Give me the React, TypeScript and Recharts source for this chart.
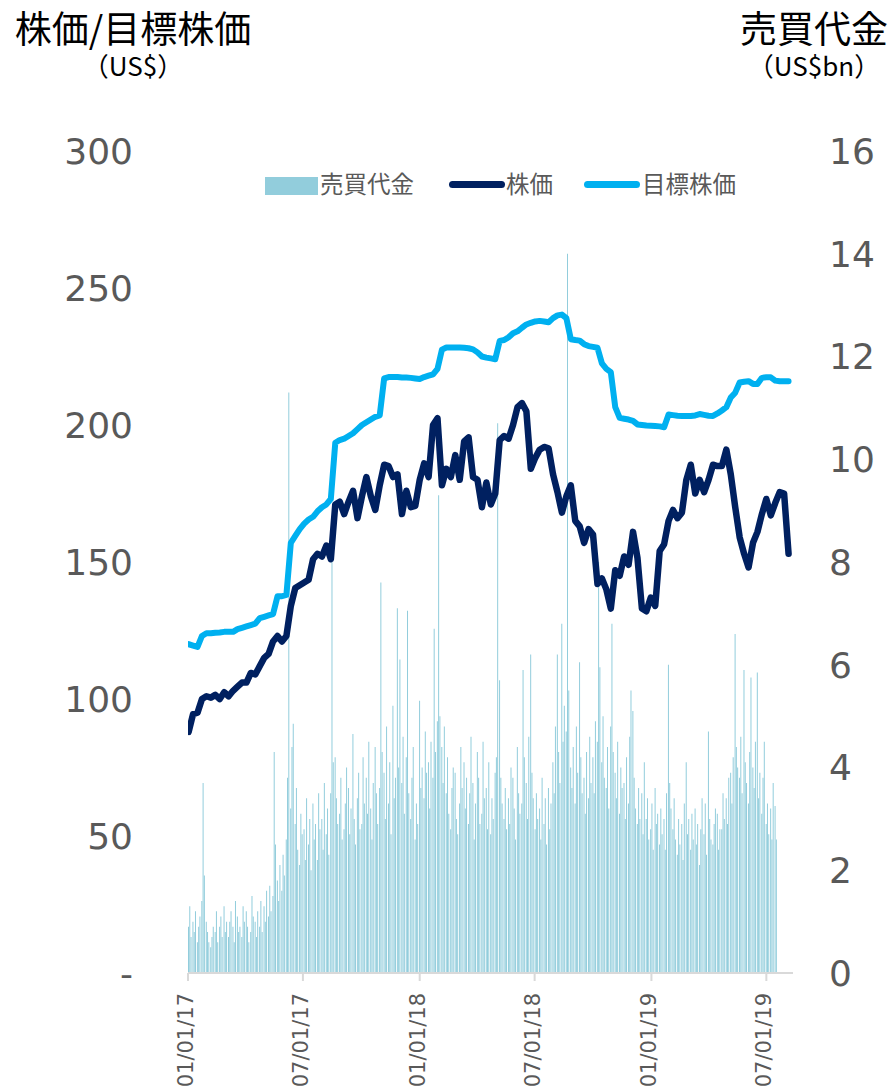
import React from 'react';
import { ComposedChart, Bar, Line, XAxis, YAxis } from 'recharts';

// weekly closing price (US$), one value per Monday from 02/01/2017
const priceWeekly = [
  88, 94.5, 95, 100, 101, 100.5, 101.5, 100, 102.5, 101,
  103, 104.5, 106, 106, 109.5, 109, 112, 115, 116.5, 121,
  123, 121, 123, 134, 140.5, 141.5, 142.5, 143.5, 151, 153,
  152, 156, 151, 171, 172, 167.5, 172, 176, 166, 174,
  181, 174, 169, 178, 185.5, 185, 181, 182, 167.5, 176,
  170, 170.5, 180, 186, 181, 200, 202.5, 178, 184, 181,
  189, 180, 194, 195.5, 181, 180, 170, 179, 171, 175,
  194.5, 196, 195, 200, 206.5, 208, 205, 184, 188, 191,
  192, 191.5, 182, 175.5, 168, 174, 178, 165, 163, 157,
  162, 160, 142, 144, 140, 133, 147, 145, 152, 149,
  161, 151.5, 133, 132, 137, 134, 154, 156.5, 165, 169,
  166, 168, 180, 185.5, 175, 180, 175.5, 180, 185.5, 185,
  185, 191, 182, 170, 159, 153, 148, 157, 161, 167.5,
  173, 167, 171.5, 175.5, 175, 153,
];

// weekly consensus target price (US$)
const targetWeekly = [
  120, 119.5, 119, 123, 124, 124, 124.2, 124.3, 124.5, 124.5,
  124.5, 125.5, 126, 126.5, 127, 127.5, 129.5, 130, 130.5, 131,
  137.5, 137.5, 138, 157, 159.5, 162, 164, 165.5, 166.5, 168.5,
  170, 171, 173, 193.5, 194.5, 195, 196, 197, 198.5, 200,
  201, 202, 203, 203.5, 217, 217.5, 217.5, 217.5, 217.3, 217.3,
  217.2, 217, 216.8, 217.5, 218, 218.5, 220.5, 227.5, 228.3, 228.3,
  228.3, 228.3, 228.2, 228, 227.6, 226.5, 225, 224.6, 224.3, 224,
  230.7, 231, 232, 233.5, 234.2, 235.5, 236.7, 237.3, 237.8, 238,
  237.8, 237.5, 239, 240, 240.3, 239, 231.3, 231, 230.8, 229.5,
  228.8, 228.5, 228.2, 222.5, 220.5, 219.3, 206.5, 202.6, 202.3, 202,
  201.5, 200.2, 200, 199.8, 199.7, 199.6, 199.5, 199.2, 203.8, 203.6,
  203.4, 203.3, 203.3, 203.3, 203.5, 204, 203.7, 203.4, 203.3, 204.2,
  205.3, 206.5, 210, 211.8, 215.5, 215.8, 216, 215, 215, 217.2,
  217.4, 217.4, 216.2, 216, 216, 216,
];

// trading value (US$bn), Mon / Wed / Fri of each week
const volumeMWF = [
  0.9, 1.3, 0.7, 1.0, 0.8, 1.2, 0.6, 0.9, 1.1, 1.4, 3.7, 1.9,
  1.0, 0.8, 0.6, 0.5, 0.7, 0.9, 0.8, 1.2, 0.6, 0.9, 1.1, 0.7,
  1.3, 0.8, 1.0, 0.7, 1.0, 1.2, 0.9, 0.6, 1.4, 1.1, 0.8, 0.9,
  0.7, 1.3, 1.0, 1.2, 0.9, 0.6, 0.8, 1.5, 1.1, 1.0, 0.7, 1.2,
  0.9, 1.4, 0.8, 1.3, 1.0, 1.6, 1.1, 1.7, 1.2, 1.5, 4.3, 2.5,
  1.8, 1.4, 2.1, 1.6, 2.3, 1.9, 2.6, 3.8, 11.3, 3.2, 4.4, 4.85,
  2.9, 3.6, 2.4, 2.1, 3.1, 2.7, 2.8, 2.2, 3.4, 2.5, 3.0, 2.0,
  3.3, 2.6, 2.9, 2.2, 3.5, 2.8, 3.0, 2.4, 3.7, 2.7, 3.2, 2.3,
  3.5, 8.0, 4.1, 4.2, 3.4, 2.9, 3.1, 3.8, 2.6, 2.8, 3.3, 4.0,
  3.6, 2.7, 3.2, 4.65, 3.0, 2.5, 3.4, 3.9, 2.8, 2.9, 4.2, 3.3,
  3.8, 3.1, 4.5, 3.2, 2.6, 3.7, 4.4, 3.5, 2.9, 3.6, 7.6, 4.3,
  3.9, 3.0, 4.8, 3.3, 4.1, 2.7, 5.2, 3.4, 3.8, 7.1, 4.0, 6.1,
  3.7, 4.6, 3.1, 4.2, 7.05, 3.5, 3.0, 3.8, 4.4, 2.6, 3.3, 2.9,
  5.3, 3.6, 4.0, 3.4, 4.7, 3.9, 4.1, 3.2, 4.5, 3.8, 6.7, 4.3,
  4.9, 9.3, 5.0, 4.4, 3.7, 4.8, 3.5, 4.2, 3.1, 2.8, 3.6, 4.0,
  3.9, 3.0, 2.7, 3.3, 4.4, 3.6, 4.1, 3.2, 3.8, 2.9, 3.5, 4.6,
  3.7, 2.6, 3.3, 4.3, 3.8, 2.9, 3.1, 4.5, 3.4, 3.6, 2.8, 4.1,
  2.7, 3.4, 3.0, 3.9, 4.2, 10.7, 5.7, 3.8, 3.3, 3.0, 3.6, 2.8,
  3.4, 2.9, 4.0, 3.8, 3.2, 2.6, 4.4, 3.5, 3.1, 3.3, 5.9, 4.2,
  3.7, 3.0, 4.6, 6.2, 3.9, 3.4, 2.8, 3.5, 3.0, 3.2, 2.6, 3.8,
  2.9, 3.4, 2.5, 3.6, 2.8, 3.3, 4.1, 3.5, 4.8, 6.2, 4.3, 3.7,
  6.8, 4.5, 5.2, 4.7, 14.0, 5.5, 4.0, 3.6, 4.4, 3.3, 4.8, 3.9,
  6.05, 4.2, 3.5, 3.8, 3.1, 4.3, 3.4, 4.6, 3.7, 4.2, 3.5, 4.9,
  4.5, 8.0, 5.95, 4.1, 5.0, 3.8, 3.6, 4.4, 3.2, 4.8, 6.8, 4.3,
  3.9, 3.4, 4.5, 3.1, 4.0, 3.6, 3.7, 3.0, 4.2, 3.3, 4.6, 5.5,
  5.1, 3.8, 3.2, 2.9, 3.6, 3.0, 3.5, 2.7, 4.1, 3.0, 3.4, 2.6,
  2.8, 3.3, 2.4, 3.6, 2.9, 3.1, 2.5, 3.2, 2.7, 3.0, 2.4, 3.5,
  6.0, 3.7, 3.2, 2.8, 3.4, 2.6, 2.3, 3.0, 2.5, 2.9, 2.2, 3.3,
  4.1, 2.7, 3.0, 2.4, 3.1, 2.6, 3.2, 2.5, 2.9, 2.1, 2.8, 3.4,
  2.7, 3.3, 2.3, 4.7, 3.0, 2.6, 2.5, 2.9, 3.2, 3.1, 2.4, 2.8,
  2.8, 3.5, 3.0, 3.4, 2.9, 3.8, 3.9, 3.3, 4.2, 6.6, 4.4, 4.0,
  3.8, 4.6, 3.5, 5.9, 4.1, 3.7, 3.3, 4.3, 5.75, 4.0, 3.6, 4.5,
  5.85, 3.4, 3.9, 3.1, 3.8, 4.5, 2.9, 3.3, 2.7, 3.2, 2.6, 3.7,
  3.25, 2.6, null, null, null, null, null, null, null, null, null, null,
];

const tickLabels = ['01/01/17', '07/01/17', '01/01/18', '07/01/18', '01/01/19', '07/01/19'];
const tickDates = [
  Date.UTC(2017, 0, 1), Date.UTC(2017, 6, 1), Date.UTC(2018, 0, 1),
  Date.UTC(2018, 6, 1), Date.UTC(2019, 0, 1), Date.UTC(2019, 6, 1),
];

const DAY = 86400000;
const T0 = Date.UTC(2017, 0, 1);
const T_END = Date.UTC(2019, 7, 12);

// rows every Mon/Wed/Fri; lines only carry a point on Mondays
const rows = [];
priceWeekly.forEach((p, k) => {
  [0, 2, 4].forEach((off, j) => {
    rows.push({
      t: T0 + (1 + 7 * k + off) * DAY,
      volume: volumeMWF[3 * k + j],
      price: j === 0 ? p : null,
      target: j === 0 ? targetWeekly[k] : null,
    });
  });
});

const NAVY = '#002060';
const CYAN = '#00B0F0';
const AQUA = '#92CDDC';
const GREY = '#595959';
const TICK_FONT = '"DejaVu Sans", Verdana, sans-serif';
const JP_FONT = '"Noto Sans CJK JP", sans-serif';

const DateTick = (props: any) => {
  const { x, y, payload } = props;
  const idx = tickDates.indexOf(payload.value);
  return (
    <g transform={`translate(${x + 5},${y})`}>
      <text transform="rotate(-90)" textAnchor="end" fill={GREY} fontSize={21} fontFamily={TICK_FONT}>
        {tickLabels[idx]}
      </text>
    </g>
  );
};

const txt = (extra: React.CSSProperties): React.CSSProperties => ({
  position: 'absolute',
  whiteSpace: 'nowrap',
  fontFamily: JP_FONT,
  lineHeight: 1,
  ...extra,
});

// title block: big title line with the unit line centred below it
const titleBlock = (extra: React.CSSProperties): React.CSSProperties => ({
  position: 'absolute',
  whiteSpace: 'nowrap',
  fontFamily: JP_FONT,
  fontSize: 37,
  lineHeight: '33px',
  textAlign: 'center',
  color: '#000',
  ...extra,
});

export default function App() {
  return (
    <div style={{ position: 'absolute', left: 0, top: 0, width: 893, height: 1088, background: '#fff', overflow: 'hidden' }}>
      <ComposedChart
        width={893}
        height={1088}
        data={rows}
        margin={{ top: 151, right: 40, bottom: 85, left: 128 }}
        barGap={0}
      >
        <XAxis
          dataKey="t"
          type="number"
          domain={[T0, T_END]}
          ticks={tickDates}
          height={30}
          stroke="#D9D9D9"
          strokeWidth={2}
          tickSize={8}
          tickMargin={12}
          tick={<DateTick />}
          allowDataOverflow
        />
        <YAxis
          yAxisId="left"
          orientation="left"
          domain={[0, 300]}
          ticks={[0, 50, 100, 150, 200, 250, 300]}
          tickFormatter={(v: number) => (v === 0 ? '-' : String(v))}
          width={60}
          axisLine={false}
          tickLine={false}
          tickSize={0}
          tickMargin={55}
          tick={{ fill: GREY, fontSize: 36, fontFamily: TICK_FONT }}
        />
        <YAxis
          yAxisId="right"
          orientation="right"
          domain={[0, 16]}
          ticks={[0, 2, 4, 6, 8, 10, 12, 14, 16]}
          width={60}
          axisLine={false}
          tickLine={false}
          tickSize={0}
          tickMargin={36}
          tick={{ fill: GREY, fontSize: 36, fontFamily: TICK_FONT, textAnchor: 'start' }}
        />
        <Bar yAxisId="right" dataKey="volume" fill={AQUA} barSize={1} isAnimationActive={false} />
        <Line
          yAxisId="left"
          dataKey="price"
          stroke={NAVY}
          strokeWidth={6.5}
          strokeLinejoin="round"
          strokeLinecap="round"
          dot={false}
          activeDot={false}
          connectNulls
          type="linear"
          isAnimationActive={false}
        />
        <Line
          yAxisId="left"
          dataKey="target"
          stroke={CYAN}
          strokeWidth={6}
          strokeLinejoin="round"
          strokeLinecap="round"
          dot={false}
          activeDot={false}
          connectNulls
          type="linear"
          isAnimationActive={false}
        />
      </ComposedChart>

      {/* axis titles */}
      <div style={titleBlock({ left: 8, top: 11, width: 250 })}>
        株価/目標株価<br /><span style={{ fontSize: 26 }}>（US$）</span>
      </div>
      <div style={titleBlock({ right: 3, top: 11, width: 152 })}>
        売買代金<br /><span style={{ fontSize: 26 }}>（US$bn）</span>
      </div>

      {/* legend */}
      <div style={{ position: 'absolute', left: 265, top: 177, width: 53, height: 18, background: AQUA }} />
      <div style={txt({ left: 320, top: 172, fontSize: 23.5, color: GREY })}>売買代金</div>
      <div style={{ position: 'absolute', left: 449, top: 181, width: 56, height: 7, borderRadius: 4, background: NAVY }} />
      <div style={txt({ left: 506, top: 172, fontSize: 23.5, color: GREY })}>株価</div>
      <div style={{ position: 'absolute', left: 584, top: 181, width: 56, height: 7, borderRadius: 4, background: CYAN }} />
      <div style={txt({ left: 642, top: 172, fontSize: 23.5, color: GREY })}>目標株価</div>
    </div>
  );
}
